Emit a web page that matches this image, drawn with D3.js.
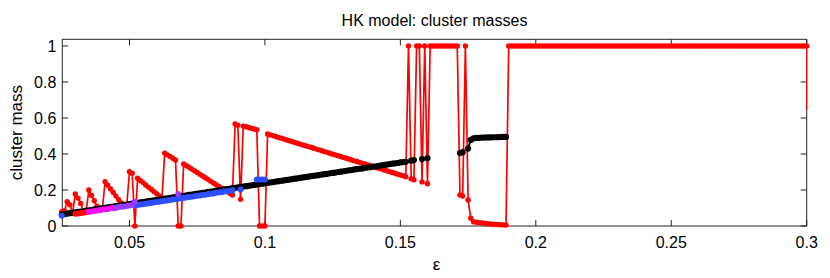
<!DOCTYPE html>
<html>
<head>
<meta charset="utf-8">
<script src="https://cdn.jsdelivr.net/npm/d3@7"></script>
<style>
  body { margin: 0; background: #fff; }
  text { font-family: "Liberation Sans", Arial, sans-serif; fill: #000; }
</style>
</head>
<body>
<script>
// eps grid is in thousandths: k -> eps = k / 1000
const redStart = 25;
const redMass = [
  0.08, 0.085, 0.135, 0.118, 0.07, 0.178, 0.155, 0.125, 0.08, 0.083,
  0.2, 0.17, 0.14, 0.11, 0.092, 0.095, 0.246, 0.226, 0.206, 0.186,
  0.166, 0.146, 0.126, 0.112, 0.115, 0.302, 0.293, 0, 0.265, 0.253,
  0.241, 0.228, 0.216, 0.204, 0.192, 0.18, 0.167, 0.155, 0.405, 0.395,
  0.386, 0.376, 0.367, 0, 0, 0.345, 0.335, 0.326, 0.316, 0.307,
  0.297, 0.287, 0.278, 0.268, 0.259, 0.249, 0.239, 0.23, 0.22, 0.21,
  0.201, 0.191, 0.182, 0.172, 0.567, 0.56, 0.148, 0.555, 0.551, 0.547,
  0.543, 0.539, 0.535, 0, 0, 0, 0.511, 0.506, 0.502, 0.497,
  0.492, 0.488, 0.483, 0.478, 0.474, 0.469, 0.464, 0.46, 0.455, 0.45,
  0.446, 0.441, 0.437, 0.432, 0.427, 0.423, 0.418, 0.413, 0.409, 0.404,
  0.399, 0.395, 0.39, 0.386, 0.381, 0.376, 0.372, 0.367, 0.362, 0.358,
  0.353, 0.348, 0.344, 0.339, 0.335, 0.33, 0.325, 0.321, 0.316, 0.311,
  0.307, 0.302, 0.297, 0.293, 0.288, 0.283, 0.279, 0.274, 1, 0.262,
  0.257, 1, 1, 0.245, 1, 0.235, 1, 1, 1, 1,
  1, 1, 1, 1, 1, 1, 1, 0.172, 0.167, 1,
  0.144, 0.043, 0.024, 0.021, 0.019, 0.017, 0.015, 0.013, 0.012, 0.01,
  0.009, 0.008, 0.007, 0.006, 0.005, 1, 1, 1, 1, 1,
  1, 1, 1, 1, 1, 1, 1, 1, 1, 1,
  1, 1, 1, 1, 1, 1, 1, 1, 1, 1,
  1, 1, 1, 1, 1, 1, 1, 1, 1, 1,
  1, 1, 1, 1, 1, 1, 1, 1, 1, 1,
  1, 1, 1, 1, 1, 1, 1, 1, 1, 1,
  1, 1, 1, 1, 1, 1, 1, 1, 1, 1,
  1, 1, 1, 1, 1, 1, 1, 1, 1, 1,
  1, 1, 1, 1, 1, 1, 1, 1, 1, 1,
  1, 1, 1, 1, 1, 1, 1, 1, 1, 1,
  1, 1, 1, 1, 1, 1, 1, 1, 1, 1,
  1, 1, 1, 1, 1, 1
];
// the red curve leaves the frame downward at eps = 0.3
const redTail = [[0.3, 1], [0.3, 0.645]];

const blackStart = 25;
const blackMass = [
  0.064, 0.066, 0.069, 0.071, 0.073, 0.076, 0.078, 0.080, 0.082, 0.085,
  0.087, 0.089, 0.092, 0.094, 0.096, 0.099, 0.101, 0.103, 0.106, 0.108,
  0.110, 0.113, 0.115, 0.117, 0.119, 0.122, 0.124, 0.126, 0.129, 0.131,
  0.133, 0.136, 0.138, 0.140, 0.143, 0.145, 0.147, 0.149, 0.152, 0.154,
  0.156, 0.159, 0.161, 0.163, 0.166, 0.168, 0.170, 0.173, 0.175, 0.177,
  0.180, 0.182, 0.184, 0.186, 0.189, 0.191, 0.193, 0.196, 0.198, 0.200,
  0.203, 0.205, 0.207, 0.210, 0.212, 0.214, 0.216, 0.219, 0.221, 0.223,
  0.226, 0.228, 0.230, 0.233, 0.235, 0.237, 0.240, 0.242, 0.244, 0.247,
  0.249, 0.251, 0.253, 0.256, 0.258, 0.260, 0.263, 0.265, 0.267, 0.270,
  0.272, 0.274, 0.277, 0.279, 0.281, 0.283, 0.286, 0.288, 0.290, 0.293,
  0.295, 0.297, 0.300, 0.302, 0.304, 0.307, 0.309, 0.311, 0.314, 0.316,
  0.318, 0.320, 0.323, 0.325, 0.327, 0.330, 0.332, 0.334, 0.337, 0.339,
  0.341, 0.344, 0.346, 0.348, 0.350, 0.353, 0.355, 0.357,
  null, 0.363, 0.366, null, null, 0.372, null, 0.377,
  null, null, null, null, null, null, null, null, null, null, null,
  0.405, 0.41, null, 0.43, 0.478, 0.487, 0.489, 0.49, 0.491, 0.491,
  0.492, 0.492, 0.493, 0.493, 0.494, 0.494, 0.495, 0.495
];

const red2K = [30, 31, 32, 33, 34];
const red2Mass = [0.068, 0.070, 0.072, 0.074, 0.077];

const magentaK = [35, 36, 37, 38, 39, 40, 41, 42, 43, 44, 45];
const magentaMass = [0.079, 0.081, 0.084, 0.086, 0.088, 0.091, 0.093, 0.095, 0.098, 0.100, 0.102];

const blueK = [25,
  52, 53, 54, 55, 56, 57, 58, 59, 60, 61, 62, 63, 64, 65, 66, 67, 68, 69, 70,
  71, 72, 73, 74, 75, 76, 77, 78, 79, 80, 81, 82, 83, 84, 85, 86, 87, 88,
  91, 97, 98, 99, 100];
const blueMass = [0.057,
  0.114, 0.117, 0.119, 0.121, 0.124, 0.126, 0.128, 0.131, 0.133, 0.135,
  0.137, 0.140, 0.142, 0.144, 0.147, 0.149, 0.151, 0.154, 0.156,
  0.158, 0.161, 0.163, 0.165, 0.168, 0.170, 0.172, 0.174, 0.177, 0.179,
  0.181, 0.184, 0.186, 0.188, 0.191, 0.193, 0.195, 0.198,
  0.203, 0.258, 0.258, 0.258, 0.258];

const purpleK = [45, 46, 47, 48, 49, 50, 51, 52, 68];
const purpleMass = [0.102, 0.105, 0.107, 0.109, 0.111, 0.114, 0.116, 0.135, 0.178];

const xTicks = [0.05, 0.1, 0.15, 0.2, 0.25, 0.3];
const yTicks = [0, 0.2, 0.4, 0.6, 0.8, 1];

const W = 830, H = 278;
const plot = {left: 62.3, right: 806.7, top: 39.3, bottom: 226};

const svg = d3.select("body").append("svg")
  .attr("width", W).attr("height", H);

const x = d3.scaleLinear().domain([0.0252, 0.3]).range([plot.left, plot.right]);
const y = d3.scaleLinear().domain([0, 1.037]).range([plot.bottom, plot.top]);

// make point lists
function fromStart(start, arr){
  return arr.map((m, i) => ({k: start + i, m: m}));
}
function fromK(ks, arr){
  return ks.map((k, i) => ({k: k, m: arr[i]}));
}
// split into runs of consecutive grid points
function runs(pts){
  let out = [], cur = [];
  pts.forEach(p => {
    if(p.m == null){ if(cur.length) out.push(cur); cur = []; return; }
    if(cur.length && p.k - cur[cur.length-1].k > 1){ out.push(cur); cur = []; }
    cur.push(p);
  });
  if(cur.length) out.push(cur);
  return out;
}

const line = d3.line().x(d => x(d.k / 1000)).y(d => y(d.m));

function drawSeries(pts, color, r, lw){
  const g = svg.append("g");
  runs(pts).forEach(run => {
    g.append("path").datum(run)
      .attr("fill", "none")
      .attr("stroke", color)
      .attr("stroke-width", lw)
      .attr("stroke-linejoin", "round")
      .attr("d", line);
  });
  g.selectAll("circle")
    .data(pts.filter(p => p.m != null))
    .enter().append("circle")
    .attr("cx", d => x(d.k / 1000))
    .attr("cy", d => y(d.m))
    .attr("r", r)
    .attr("fill", color);
}

// frame + ticks
const axisColor = "#222";
svg.append("rect")
  .attr("x", plot.left).attr("y", plot.top)
  .attr("width", plot.right - plot.left).attr("height", plot.bottom - plot.top)
  .attr("fill", "none").attr("stroke", axisColor).attr("stroke-width", 1);

const tickLen = 6;
xTicks.forEach(t => {
  svg.append("line").attr("x1", x(t)).attr("x2", x(t))
    .attr("y1", plot.bottom).attr("y2", plot.bottom - tickLen).attr("stroke", axisColor);
  svg.append("line").attr("x1", x(t)).attr("x2", x(t))
    .attr("y1", plot.top).attr("y2", plot.top + tickLen).attr("stroke", axisColor);
  svg.append("text")
    .attr("x", x(t)).attr("y", 248)
    .attr("text-anchor", "middle")
    .attr("font-size", 16)
    .text(d3.format("~g")(t));
});
yTicks.forEach(t => {
  svg.append("line").attr("x1", plot.left).attr("x2", plot.left + tickLen)
    .attr("y1", y(t)).attr("y2", y(t)).attr("stroke", axisColor);
  svg.append("line").attr("x1", plot.right).attr("x2", plot.right - tickLen)
    .attr("y1", y(t)).attr("y2", y(t)).attr("stroke", axisColor);
  svg.append("text")
    .attr("x", plot.left - 6).attr("y", y(t) + 6)
    .attr("text-anchor", "end")
    .attr("font-size", 16)
    .text(d3.format("~g")(t));
});

// series
drawSeries(fromStart(redStart, redMass), "#ff0000", 2.7, 1.7);
svg.append("path").datum(redTail)
  .attr("fill", "none").attr("stroke", "#ff0000").attr("stroke-width", 1.2)
  .attr("d", d3.line().x(d => x(d[0])).y(d => y(d[1])));
drawSeries(fromStart(blackStart, blackMass), "#000000", 3.1, 2);
drawSeries(fromK(red2K, red2Mass), "#ff0000", 3, 2);
drawSeries(fromK(magentaK, magentaMass), "#ee11ee", 3, 2);
drawSeries(fromK(blueK, blueMass), "#2f4fff", 3, 2);
drawSeries(fromK(purpleK, purpleMass), "#9a3cff", 3, 2);

// labels
svg.append("text")
  .attr("x", (plot.left + plot.right) / 2).attr("y", 26)
  .attr("text-anchor", "middle").attr("font-size", 16)
  .text("HK model: cluster masses");
svg.append("text")
  .attr("transform", "translate(22," + ((plot.top + plot.bottom) / 2) + ") rotate(-90)")
  .attr("text-anchor", "middle").attr("font-size", 17)
  .text("cluster mass");
svg.append("text")
  .attr("x", (plot.left + plot.right) / 2 + 2).attr("y", 270)
  .attr("text-anchor", "middle").attr("font-size", 17)
  .text("ε");
</script>
</body>
</html>
